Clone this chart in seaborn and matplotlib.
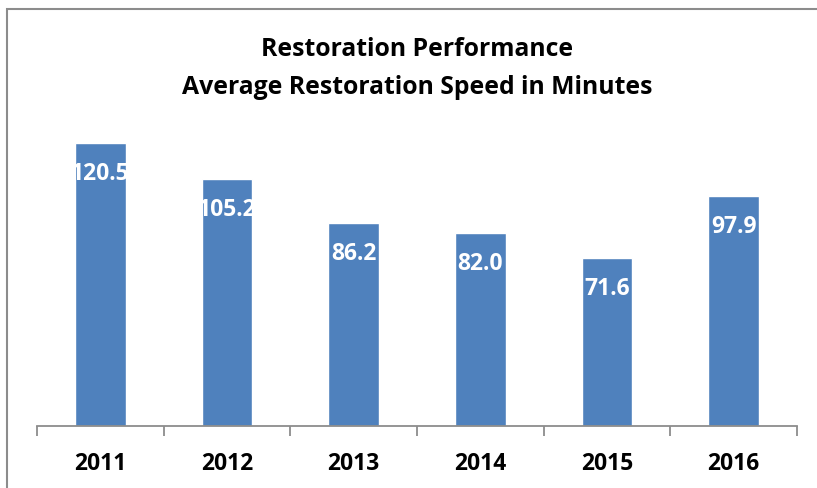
import matplotlib
matplotlib.use("Agg")
import matplotlib.pyplot as plt
import seaborn as sns
import pandas as pd
from matplotlib.patches import Rectangle

years = ["2011", "2012", "2013", "2014", "2015", "2016"]
minutes = [120.5, 105.2, 86.2, 82.0, 71.6, 97.9]
title_lines = ["Restoration Performance", "Average Restoration Speed in Minutes"]

sns.set_style("white")
plt.rcParams["font.family"] = ["Open Sans", "DejaVu Sans"]

df = pd.DataFrame({"year": years, "minutes": minutes})

fig = plt.figure(figsize=(8.17, 4.89), dpi=100)
ax = fig.add_axes([37/817, 62/489, 760/817, 329/489])

sns.barplot(data=df, x="year", y="minutes", color="#4F81BD", saturation=1,
            width=0.4, ax=ax)

ax.set_xlim(-0.5, 5.5)
ax.set_ylim(0, 140)
ax.set_xlabel("")
ax.set_ylabel("")
ax.set_yticks([])
for s in ["top", "right", "left"]:
    ax.spines[s].set_visible(False)
ax.spines["bottom"].set_color("#8C8C8C")
ax.spines["bottom"].set_linewidth(1.3)

ax.set_xticks(range(len(years)))
ax.set_xticklabels(years, fontsize=16.5, fontweight="bold", color="black")
ax.tick_params(axis="x", which="major", length=0, pad=18)
ax.set_xticks([i - 0.5 for i in range(len(years) + 1)], minor=True)
ax.tick_params(axis="x", which="minor", bottom=True, length=7, width=1.3,
               color="#8C8C8C", direction="out")

for p, v in zip(ax.patches, minutes):
    x = p.get_x() + p.get_width() / 2
    ax.annotate(f"{v:.1f}", xy=(x, p.get_height()), xytext=(0, -21.5),
                textcoords="offset points", ha="center", va="center",
                color="white", fontsize=16.5, fontweight="bold")

fig.text(417/817, 1 - 50/489, title_lines[0], ha="center", va="center",
         fontsize=17.8, fontweight="bold", color="black")
fig.text(417/817, 1 - 88/489, title_lines[1], ha="center", va="center",
         fontsize=17.8, fontweight="bold", color="black")

fig.patches.append(Rectangle((7/817, -0.1), 1.2, 1 - 10/489 + 0.1,
                             transform=fig.transFigure, fill=False,
                             edgecolor="#8C8C8C", linewidth=1.5, figure=fig))

fig.savefig("out.png", dpi=100)
